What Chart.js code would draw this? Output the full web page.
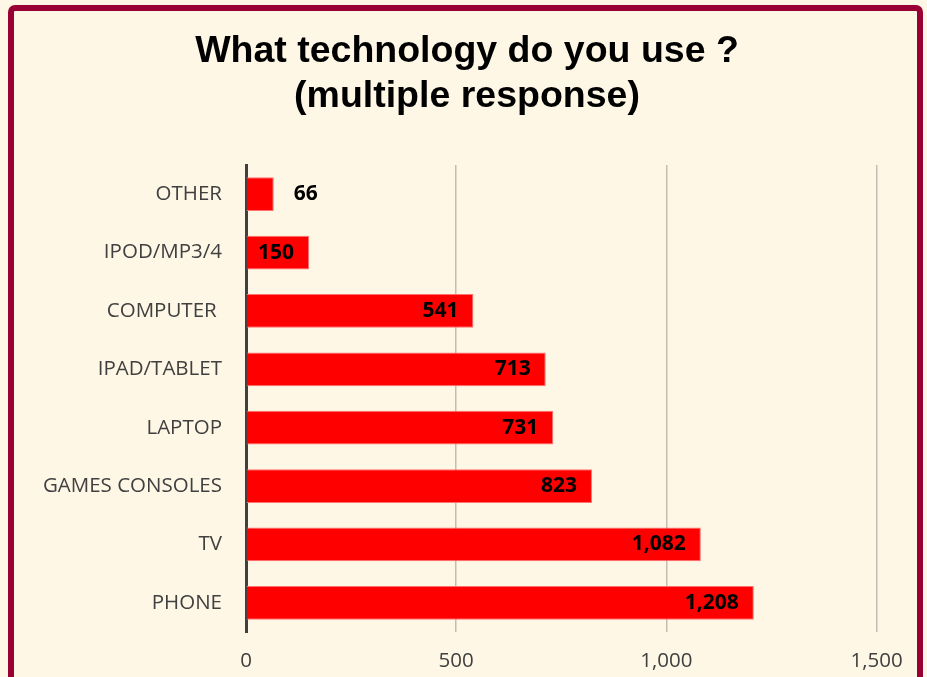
<!DOCTYPE html>
<html>
<head>
<meta charset="utf-8">
<script src="https://cdn.jsdelivr.net/npm/chart.js@4/dist/chart.umd.min.js"></script>
<style>
    html, body { margin: 0; padding: 0; background: #fef7e6; overflow: hidden; }
    .frame {
        position: absolute; left: 8px; top: 5px; width: 915px; height: 700px;
        box-sizing: border-box; border: 6px solid #990033; border-radius: 7px;
    }
    .holder { position: absolute; left: 0; top: 0; width: 927px; height: 677px; }
</style>
</head>
<body>
<div class="frame"></div>
<div class="holder"><canvas id="chart" width="927" height="677"></canvas></div>
<script>
const categories = ['OTHER', 'IPOD/MP3/4', 'COMPUTER ', 'IPAD/TABLET', 'LAPTOP', 'GAMES CONSOLES', 'TV', 'PHONE'];
const responses = [66, 150, 541, 713, 731, 823, 1082, 1208];
const xTicks = [0, 500, 1000, 1500];

// labels at the bar end, outside when the bar is too short
const barLabels = {
    id: 'barLabels',
    afterDatasetsDraw(chart) {
        const ctx = chart.ctx;
        const meta = chart.getDatasetMeta(0);
        ctx.save();
        ctx.font = 'bold 21px "Open Sans"';
        ctx.fillStyle = '#000';
        ctx.textBaseline = 'middle';
        meta.data.forEach((bar, i) => {
            const text = responses[i].toLocaleString('en-US');
            const w = ctx.measureText(text).width;
            if ( bar.x - bar.base < w + 24 ) {
                ctx.textAlign = 'left';
                ctx.fillText(text, bar.x + 20, bar.y);
            } else {
                ctx.textAlign = 'right';
                ctx.fillText(text, bar.x - 15, bar.y);
            }
        });
        ctx.restore();
    }
};

new Chart(document.getElementById('chart'), {
    type: 'bar',
    data: {
        labels: categories,
        datasets: [{
            data: responses,
            backgroundColor: '#ff0000',
            borderColor: '#ff7070',
            borderWidth: 1,
            barPercentage: 0.58,
            categoryPercentage: 1,
        }]
    },
    options: {
        indexAxis: 'y',
        responsive: false,
        animation: false,
        layout: { padding: { left: 7, right: 0, top: 0, bottom: 0 } },
        plugins: {
            legend: { display: false },
            tooltip: { enabled: false },
            title: {
                display: true,
                text: ['What technology do you use ?', '(multiple response)'],
                color: '#000',
                font: { family: 'Arial', weight: 'bold', size: 37.5, lineHeight: 1.2 },
                padding: { top: 29, bottom: 46 },
            },
        },
        scales: {
            x: {
                // empty room past 1,500 keeps the title centred on the frame
                min: 0,
                max: 1620,
                afterBuildTicks: axis => { axis.ticks = xTicks.map(v => ({ value: v })); },
                afterFit: axis => { axis.height = 45; },
                grid: { color: '#c4beb2', lineWidth: 1.5, drawTicks: false },
                border: { display: false },
                ticks: {
                    padding: 17,
                    color: '#404040',
                    font: { family: '"Open Sans"', size: 20.5 },
                    callback: v => v.toLocaleString('en-US'),
                },
            },
            y: {
                afterFit: axis => { axis.width = 239; },
                grid: { display: false, drawTicks: false },
                border: { display: true, color: '#404040', width: 3 },
                ticks: {
                    padding: 24,
                    color: '#404040',
                    font: { family: '"Open Sans"', size: 20.5 },
                },
            },
        },
    },
    plugins: [barLabels],
});
</script>
</body>
</html>
